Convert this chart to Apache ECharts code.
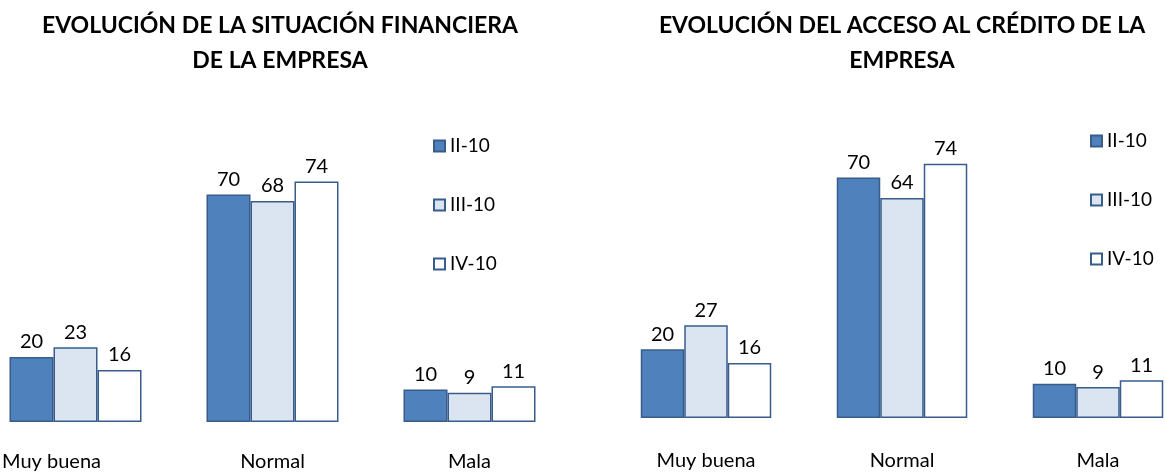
<!DOCTYPE html>
<html>
<head>
<meta charset="utf-8">
<script src="https://cdn.jsdelivr.net/npm/echarts@6/dist/echarts.min.js"></script>
<style>
  html, body { margin: 0; padding: 0; background: #fff; overflow: hidden; }
  body { width: 1165px; height: 472px; position: relative; }
  /* the chart is a bit wider than the page so the left bars can start at x≈9 */
  #main { position: absolute; left: -23px; top: 0; width: 1230px; height: 472px; }
</style>
</head>
<body>
<div id="main"></div>
<script>
const categories = ["Muy buena", "Normal", "Mala"];
const periods = ["II-10", "III-10", "IV-10"];

// situación financiera
const finII = [20, 70, 10];
const finIII = [23, 68, 9];
const finIV = [16, 74, 11];

// acceso al crédito
const credII = [20, 70, 10];
const credIII = [27, 64, 9];
const credIV = [16, 74, 11];

const fills = ["#4f81bd", "#dbe5f1", "#ffffff"];
const border = "#385d8a";
const font = "Lato";

const chart = echarts.init(document.getElementById("main"));

const mkSeries = (name, data, idx, gi, bw) => ({
  name: name,
  type: "bar",
  xAxisIndex: gi,
  yAxisIndex: gi,
  data: data,
  barWidth: bw,
  barGap: "0%",
  itemStyle: { color: fills[idx], borderColor: border, borderWidth: 1.5 },
  label: {
    show: true,
    position: "top",
    distance: 5,
    fontFamily: font,
    fontSize: 20,
    color: "#000",
  },
  emphasis: { disabled: true },
});

const catAxis = (gi, margin) => ({
  type: "category",
  gridIndex: gi,
  data: gi === 0
    ? [{ value: categories[0], textStyle: { padding: [0, 48, 0, 0] } }, categories[1], categories[2]]
    : categories,
  axisLine: { show: false },
  axisTick: { show: false },
  axisLabel: { fontFamily: font, fontSize: 20, color: "#000", margin: margin },
});

const valAxis = (gi) => ({
  type: "value",
  gridIndex: gi,
  min: 0,
  max: 80,
  show: false,
  splitLine: { show: false },
});

const legend = (left, top) => ({
  orient: "vertical",
  left: left,
  top: top,
  icon: "rect",
  itemWidth: 11,
  itemHeight: 11,
  itemGap: 39,
  data: periods,
  textStyle: { fontFamily: font, fontSize: 19, color: "#000", lineHeight: 20 },
  selectedMode: false,
});

const titleStyle = { fontFamily: font, fontWeight: "bold", fontSize: 23, lineHeight: 35, color: "#000" };

chart.setOption({
  animation: false,
  title: [
    {
      text: "EVOLUCIÓN DE LA SITUACIÓN FINANCIERA\nDE LA EMPRESA",
      left: 298,
      top: 3,
      textAlign: "center",
      textStyle: titleStyle,
    },
    {
      text: "EVOLUCIÓN DEL ACCESO AL CRÉDITO DE LA\nEMPRESA",
      left: 920,
      top: 3,
      textAlign: "center",
      textStyle: titleStyle,
    },
  ],
  legend: [legend(451, 131), legend(1108, 126)],
  grid: [
    { left: 0, width: 591, top: 162, bottom: 49 },
    { left: 631, width: 588, top: 143, bottom: 54 },
  ],
  xAxis: [catAxis(0, 30), catAxis(1, 33)],
  yAxis: [valAxis(0), valAxis(1)],
  series: [
    mkSeries(periods[0], finII, 0, 0, 44),
    mkSeries(periods[1], finIII, 1, 0, 44),
    mkSeries(periods[2], finIV, 2, 0, 44),
    mkSeries(periods[0], credII, 0, 1, 43.5),
    mkSeries(periods[1], credIII, 1, 1, 43.5),
    mkSeries(periods[2], credIV, 2, 1, 43.5),
  ],
});
</script>
</body>
</html>
